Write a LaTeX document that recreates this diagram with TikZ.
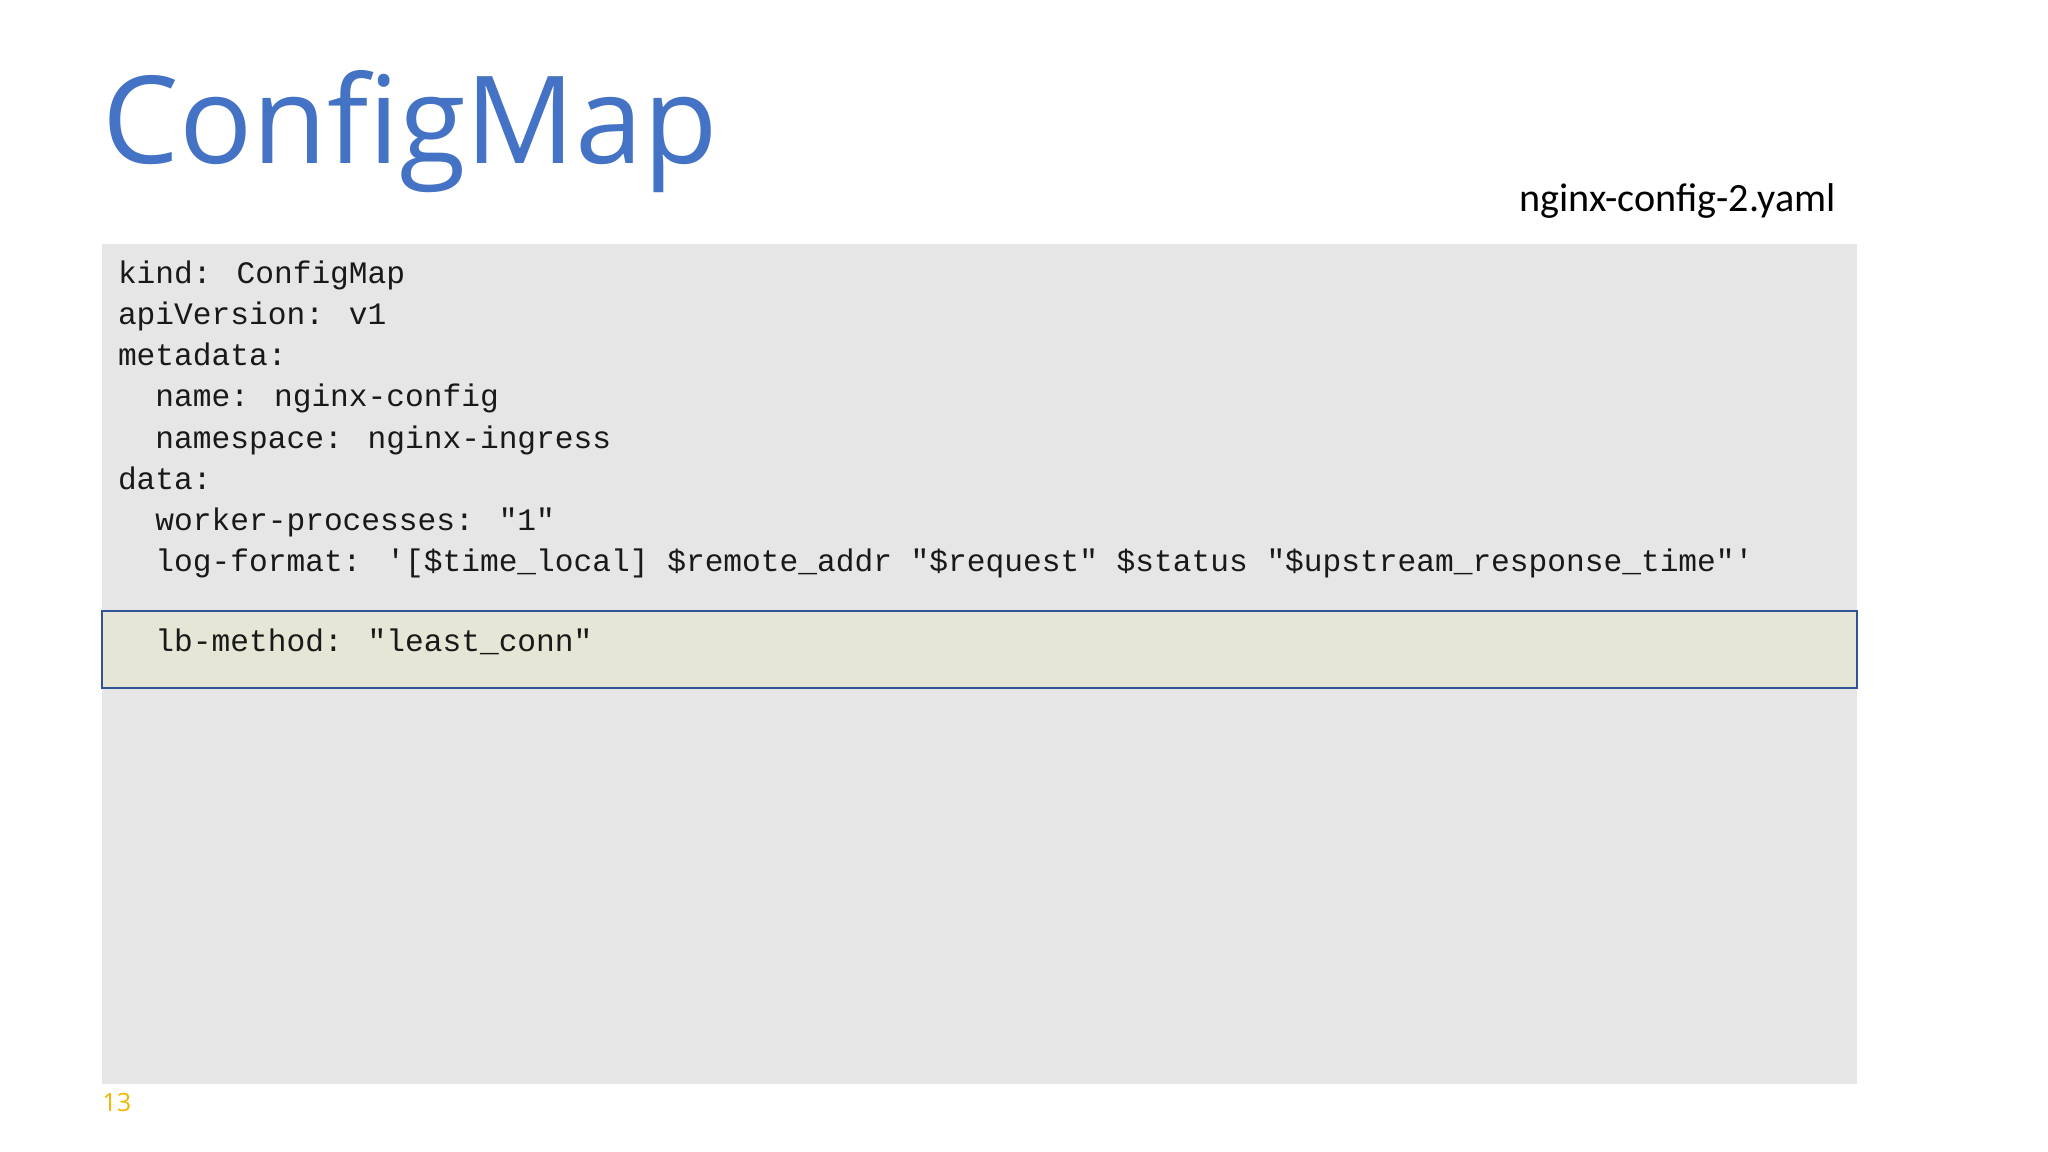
\documentclass[tikz,border=0pt]{standalone}
\usepackage{fontspec}
\setmainfont{Open Sans}
\newfontfamily\codefont{Liberation Mono}
\newfontfamily\calfont{Carlito}
\definecolor{titleblue}{HTML}{4472C4}
\definecolor{boxgrey}{HTML}{E7E6E6}
\definecolor{hlfill}{HTML}{E6E6D6}
\definecolor{hlborder}{HTML}{2F5597}
\definecolor{pagegold}{HTML}{F2B800}
\tikzset{
  codeline/.style={anchor=base west, inner sep=0pt, font=\codefont\fontsize{13.6pt}{16pt}\selectfont, text=black!90},
}
\begin{document}
\begin{tikzpicture}[x=0.02cm,y=-0.02cm]
\useasboundingbox (0,0) rectangle (1568,882);
\fill[white] (0,0) rectangle (1568,882);
\node[anchor=base west, inner sep=0pt, text=titleblue, font=\fontsize{53pt}{60pt}\selectfont] (title) at (78,125) {ConfigMap};
\node[anchor=base east, inner sep=0pt, font=\calfont\fontsize{17.5pt}{20pt}\selectfont] (fname) at (1406,162) {nginx-config-2.yaml};
\fill[boxgrey] (78,187) rectangle (1422,830);
\draw[hlborder, fill=hlfill, line width=0.8pt] (78,468) rectangle (1422,527);
\node[codeline] (l1) at (90,217) {kind: ConfigMap};
\node[codeline] (l2) at (90,248.5) {apiVersion: v1};
\node[codeline] (l3) at (90,280) {metadata:};
\node[codeline] (l4) at (90,311.5) {\ \ name: nginx-config};
\node[codeline] (l5) at (90,343) {\ \ namespace: nginx-ingress};
\node[codeline] (l6) at (90,374.5) {data:};
\node[codeline] (l7) at (90,406) {\ \ worker-processes: "1"};
\node[codeline] (l8) at (90,437.5) {\ \ log-format: '[\$time\_local] \$remote\_addr "\$request" \$status "\$upstream\_response\_time"'};
\node[codeline] (l9) at (90,499) {\ \ lb-method: "least\_conn"};
\node[anchor=base west, inner sep=0pt, text=pagegold, font=\fontsize{11pt}{13pt}\selectfont] (pg) at (78,851) {13};
\end{tikzpicture}
\end{document}
